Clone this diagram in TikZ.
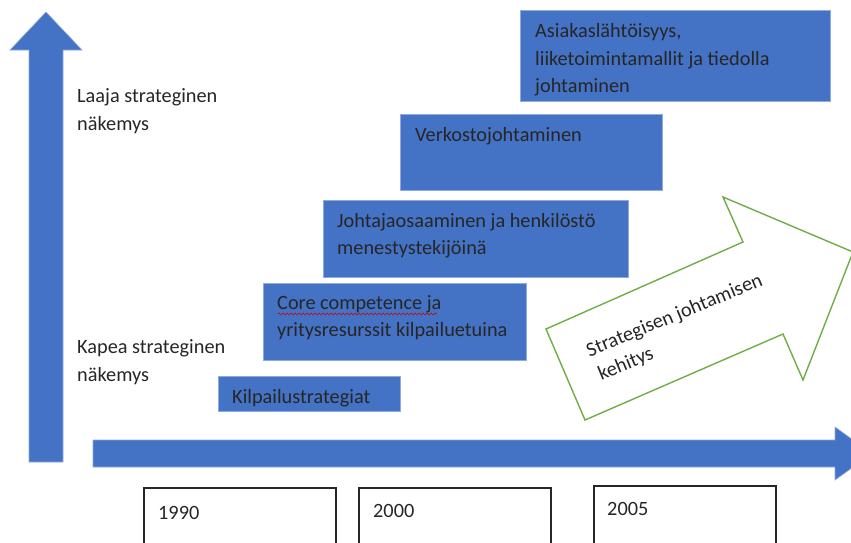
\documentclass[tikz,border=0pt]{standalone}
\usepackage{fontspec}
\setmainfont{Carlito}
\usetikzlibrary{decorations.pathmorphing}
\definecolor{stepblue}{HTML}{4472C4}
\definecolor{stepedge}{HTML}{8FAADC}
\definecolor{arrowgreen}{HTML}{70AD47}
\begin{document}
\begin{tikzpicture}[x=1pt,y=-1pt,
  txt/.style={inner sep=0pt,anchor=base west,align=left,
    font=\fontsize{20.3}{27.5}\selectfont,text=black!85},
  stagebox/.style={fill=stepblue,draw=stepedge,line width=0.6pt},
  yearbox/.style={fill=white,draw=black!85,line width=1.3pt},
  bluearrow/.style={fill=stepblue,draw=stepedge,line width=0.6pt}]
\useasboundingbox (0,0) rectangle (851,542);

% vertical axis arrow
\path[bluearrow] (29,462) -- (29,50) -- (10,50) -- (46,12) -- (82,50)
  -- (63,50) -- (63,462) -- cycle;
% horizontal time arrow (head runs past the right edge)
\begin{scope}
\clip (0,0) rectangle (851,542);
\path[bluearrow] (93,440) -- (835,440) -- (835,427) -- (872,453.5)
  -- (835,480) -- (835,467) -- (93,467) -- cycle;
\end{scope}

% axis labels
\node[txt] (wide1) at (77,102) {Laaja strateginen};
\node[txt] (wide2) at (77,130) {näkemys};
\node[txt] (narrow1) at (77,353) {Kapea strateginen};
\node[txt] (narrow2) at (77,381) {näkemys};

% stages of strategic management
\path[stagebox] (218,376) rectangle (400,411);
\node[txt] (s1) at (232,403) {Kilpailustrategiat};

\path[stagebox] (263,283) rectangle (526,360);
\node[txt] (s2a) at (277,309) {Core competence ja};
\node[txt] (s2b) at (277,336) {yritysresurssit kilpailuetuina};
\draw[red!80!black,line width=0.6pt,decorate,
  decoration={snake,amplitude=1pt,segment length=4pt}] (278,314) -- (437,314);

\path[stagebox] (323,200) rectangle (628,277);
\node[txt] (s3a) at (337,227) {Johtajaosaaminen ja henkilöstö};
\node[txt] (s3b) at (337,254) {menestystekijöinä};

\path[stagebox] (400,114) rectangle (662,190);
\node[txt] (s4) at (415,141) {Verkostojohtaminen};

\path[stagebox] (520,10) rectangle (830,101);
\node[txt] (s5a) at (535,37) {Asiakaslähtöisyys,};
\node[txt] (s5b) at (535,65) {liiketoimintamallit ja tiedolla};
\node[txt] (s5c) at (535,92) {johtaminen};

% development arrow
\begin{scope}
\clip (0,0) rectangle (851,542);
\draw[arrowgreen,line width=1.4pt,fill=white,line join=miter]
  (585,420) -- (546,329) -- (743,242) -- (723,197) -- (853,252)
  -- (803,380) -- (783,334) -- cycle;
\end{scope}
\node[txt,rotate=22.5,anchor=north west,
  font=\fontsize{20.3}{26}\selectfont] (dev) at (584,344)
  {Strategisen johtamisen\\\hspace*{2pt}kehitys};

% year boxes
\path[yearbox] (144,488) rectangle (336,560);
\node[txt] (y1) at (158,519) {1990};
\path[yearbox] (359,488) rectangle (551,560);
\node[txt] (y2) at (373,517) {2000};
\path[yearbox] (594,486) rectangle (776,560);
\node[txt] (y3) at (607,515) {2005};
\end{tikzpicture}
\end{document}
